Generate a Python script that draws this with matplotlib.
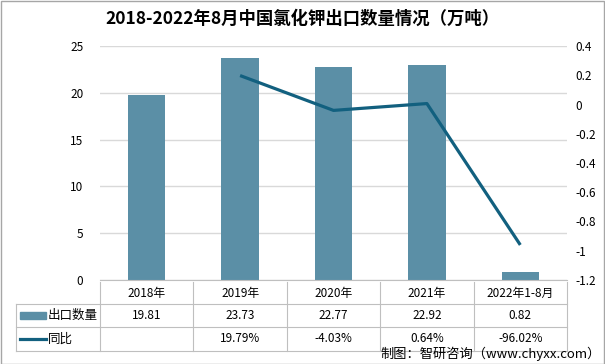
import matplotlib
matplotlib.use("Agg")
import matplotlib.pyplot as plt
from matplotlib.transforms import blended_transform_factory
from matplotlib.patches import Rectangle
from matplotlib.lines import Line2D

plt.rcParams['font.family'] = ['Noto Sans CJK SC', 'DejaVu Sans']

categories = ["2018年", "2019年", "2020年", "2021年", "2022年1-8月"]
export_qty = [19.81, 23.73, 22.77, 22.92, 0.82]
yoy = [None, 0.1979, -0.0403, 0.0064, -0.9602]
qty_labels = ["19.81", "23.73", "22.77", "22.92", "0.82"]
yoy_labels = ["", "19.79%", "-4.03%", "0.64%", "-96.02%"]
left_ticks = [0, 5, 10, 15, 20, 25]
right_ticks = [-1.2, -1.0, -0.8, -0.6, -0.4, -0.2, 0.0, 0.2, 0.4]
right_labels = ["-1.2", "-1", "-0.8", "-0.6", "-0.4", "-0.2", "0", "0.2", "0.4"]

BAR = "#5B8FA6"
LINE = "#12607F"
W, H = 605, 364

fig = plt.figure(figsize=(W / 100, H / 100), dpi=100)
ax = fig.add_axes([100 / W, 1 - 280 / H, (567 - 100) / W, (280 - 46) / H])
x = list(range(len(categories)))
ax.bar(x, export_qty, width=0.4, color=BAR, zorder=2)
ax.set_xlim(-0.5, len(categories) - 0.5)
ax.set_ylim(0, 25)
ax.set_yticks(left_ticks)
ax.set_yticklabels([str(t) for t in left_ticks], fontsize=8.5)
ax.yaxis.grid(True, color="#d9d9d9", linewidth=1, zorder=0)
ax.set_xticks([])
for s in ["top", "right", "left"]:
    ax.spines[s].set_visible(False)
ax.spines["bottom"].set_color("#bfbfbf")
ax.tick_params(axis="y", length=0, pad=12)

ax2 = ax.twinx()
xs = [i for i, v in zip(x, yoy) if v is not None]
ys = [v for v in yoy if v is not None]
ax2.plot(xs, ys, color=LINE, linewidth=2.3, solid_capstyle="butt", zorder=3)
ax2.set_ylim(-1.2, 0.4)
ax2.set_yticks(right_ticks)
ax2.set_yticklabels(right_labels, fontsize=8.5)
ax2.tick_params(axis="y", length=0, pad=6)
for s in ["top", "right", "left", "bottom"]:
    ax2.spines[s].set_visible(False)
for lab in ax2.get_yticklabels():
    lab.set_horizontalalignment("left")

# Table
tr = blended_transform_factory(ax.transData, fig.transFigure)
ftr = fig.transFigure
def fy(py):
    return 1 - py / H
def fx(px):
    return px / W

y_top, y_r1, y_r2, y_bot = 282, 304, 327, 351
gc = "#bfbfbf"
# horizontal lines
for yy in [y_r1, y_r2, y_bot]:
    fig.add_artist(Line2D([fx(16), fx(567)], [fy(yy), fy(yy)], color=gc, linewidth=0.8))
# vertical lines
for b in [i - 0.5 for i in range(len(categories) + 1)]:
    fig.add_artist(Line2D([b, b], [fy(y_top), fy(y_bot)], color=gc, linewidth=0.8, transform=tr))
fig.add_artist(Line2D([fx(16), fx(16)], [fy(y_r1), fy(y_bot)], color=gc, linewidth=0.8))

for i, c in enumerate(categories):
    fig.text(i, fy((y_top + y_r1) / 2), c, transform=tr, ha="center", va="center", fontsize=8.5)
    fig.text(i, fy((y_r1 + y_r2) / 2), qty_labels[i], transform=tr, ha="center", va="center", fontsize=8.5)
    fig.text(i, fy((y_r2 + y_bot) / 2), yoy_labels[i], transform=tr, ha="center", va="center", fontsize=8.5)

# legend keys
fig.add_artist(Rectangle((fx(20), fy(319)), fx(26), 7 / H, color=BAR, transform=ftr))
fig.add_artist(Line2D([fx(20), fx(46)], [fy(339), fy(339)], color=LINE, linewidth=2.3, transform=ftr))
fig.text(fx(48), fy(315.5), "出口数量", ha="left", va="center", fontsize=9)
fig.text(fx(48), fy(339), "同比", ha="left", va="center", fontsize=9)

fig.text(0.5, fy(19), "2018-2022年8月中国氯化钾出口数量情况（万吨）", ha="center", va="center",
         fontsize=12.5, fontweight="bold")
fig.text(fx(601), fy(354), "制图：智研咨询（www.chyxx.com）", ha="right", va="center", fontsize=9.5)

fig.add_artist(Rectangle((0.5 / W, 0.5 / H), 1 - 1.5 / W, 1 - 1.5 / H, fill=False,
                         edgecolor="#a6a6a6", linewidth=1, transform=ftr))

fig.savefig("out.png", dpi=100)
